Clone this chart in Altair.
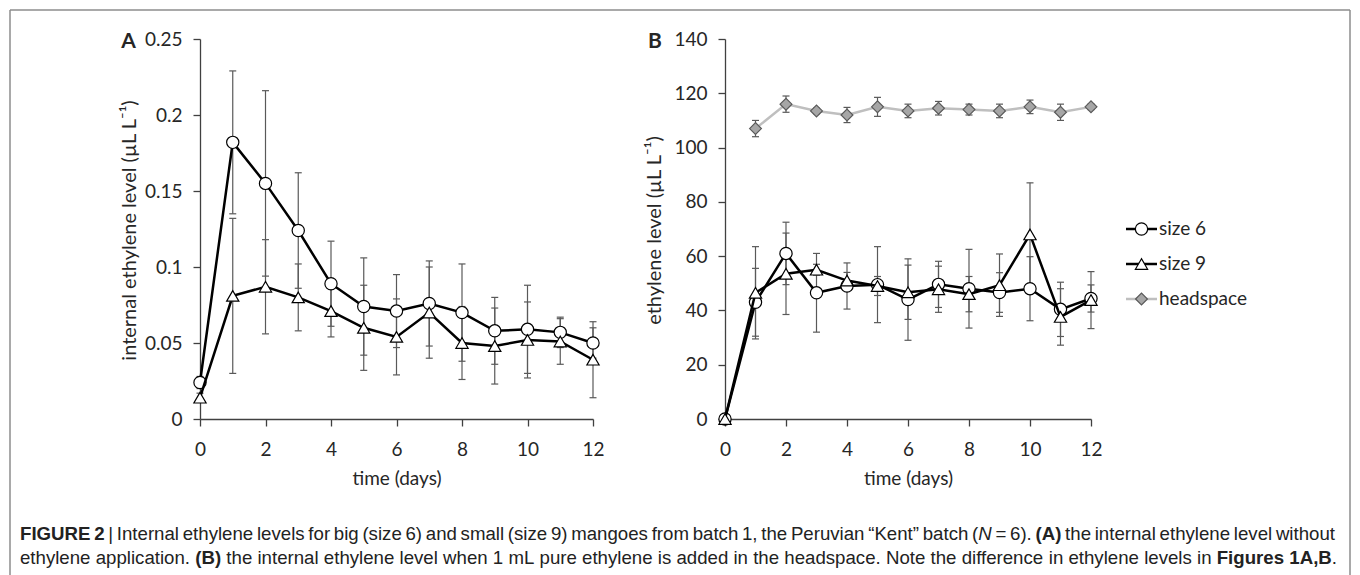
import altair as alt
import pandas as pd

# ---------------- data ----------------
days = list(range(13))
series_names = ["size 6", "size 9", "headspace"]

# Panel A: internal ethylene level (µL L-1)
a_size6 = [0.024, 0.182, 0.155, 0.124, 0.089, 0.074, 0.071, 0.076, 0.070, 0.058, 0.059, 0.057, 0.050]
a_size6_sd = [0.004, 0.047, 0.061, 0.038, 0.028, 0.032, 0.024, 0.028, 0.032, 0.022, 0.029, 0.010, 0.010]
a_size9 = [0.014, 0.081, 0.087, 0.080, 0.071, 0.060, 0.054, 0.070, 0.050, 0.048, 0.052, 0.051, 0.039]
a_size9_sd = [0.003, 0.051, 0.031, 0.022, 0.017, 0.028, 0.025, 0.030, 0.024, 0.025, 0.025, 0.015, 0.025]

# Panel B: ethylene level (µL L-1)
b_size6 = [0.0, 43.0, 61.0, 46.5, 49.0, 49.5, 44.0, 49.6, 48.0, 46.6, 48.0, 40.4, 44.4]
b_size6_sd = [0.0, 12.5, 11.5, 14.5, 8.5, 14.0, 15.0, 8.5, 14.5, 7.3, 11.8, 10.0, 5.0]
b_size9 = [0.0, 46.5, 53.5, 55.0, 51.0, 49.0, 46.7, 47.8, 46.0, 49.3, 68.0, 37.6, 43.8]
b_size9_sd = [0.0, 17.0, 15.0, 2.0, 3.0, 3.5, 10.0, 8.5, 6.5, 11.5, 19.0, 10.4, 10.5]
head_days = list(range(1, 13))
b_head = [107.0, 116.0, 113.5, 112.0, 115.0, 113.5, 114.5, 114.0, 113.5, 115.0, 113.0, 115.0]
b_head_sd = [3.0, 3.0, 1.0, 2.8, 3.5, 2.5, 2.5, 2.0, 2.5, 2.5, 3.0, 1.0]

x_ticks = [0, 2, 4, 6, 8, 10, 12]
a_ticks = [0, 0.05, 0.1, 0.15, 0.2, 0.25]
b_ticks = [0, 20, 40, 60, 80, 100, 120, 140]

caption_line1 = [
    ("FIGURE 2", "b"),
    (" | Internal ethylene levels for big (size 6) and small (size 9) mangoes from batch 1, the Peruvian \u201cKent\u201d batch (", "r"),
    ("N", "i"),
    (" = 6). ", "r"),
    ("(A)", "b"),
    (" the internal ethylene level without", "r"),
]
caption_line2 = [
    ("ethylene application. ", "r"),
    ("(B)", "b"),
    (" the internal ethylene level when 1 mL pure ethylene is added in the headspace. Note the difference in ethylene levels in ", "r"),
    ("Figures 1A,B", "b"),
    (".", "r"),
]

# ---------------- styling ----------------
FONT = "Lato"
CAP_FONT = "Liberation Sans"
AX = "#404040"
TXT = "#262626"
BAR = "#595959"
W_A, W_B, H = 393, 366, 380
SPACING = 132
one_row = pd.DataFrame({"k": [0]})


def series_df(xs, vals, sds):
    return pd.DataFrame({
        "day": xs,
        "val": vals,
        "lo": [v - s for v, s in zip(vals, sds)],
        "hi": [v + s for v, s in zip(vals, sds)],
    })


def make_axes(ydomain, yvals, yfmt, ytitle):
    common = dict(grid=False, domainColor=AX, domainWidth=1.3, tickColor=AX, tickWidth=1.3,
                  tickSize=7, labelFont=FONT, labelFontSize=19, labelColor=TXT,
                  titleFont=FONT, titleFontWeight="normal", titleColor=TXT,
                  labelFlush=False)
    xax = alt.Axis(values=x_ticks, title="time (days)", labelPadding=14, titleY=65,
                   titleFontSize=19, titleBaseline="alphabetic", **common)
    yax = alt.Axis(values=yvals, format=yfmt, title=ytitle, labelPadding=11, titleX=-65,
                   titleY=H / 2 + 1, titleAngle=270, titleFontSize=20, titleBaseline="alphabetic",
                   titleAlign="center", **common)
    xs = alt.Scale(domain=[0, 12], nice=False, zero=False)
    ys = alt.Scale(domain=ydomain, nice=False, zero=False)
    return xax, yax, xs, ys


def series_layers(df, axes, shape, fill, stroke, line_color, size):
    xax, yax, xs, ys = axes
    X = alt.X("day:Q", scale=xs, axis=xax)
    base = alt.Chart(df)
    rule = base.mark_rule(color=BAR, strokeWidth=1.2).encode(
        x=X, y=alt.Y("lo:Q", scale=ys, axis=yax), y2="hi:Q")
    tlo = base.mark_tick(orient="horizontal", size=7, thickness=1.2, color=BAR, opacity=1).encode(
        x=X, y=alt.Y("lo:Q", scale=ys, axis=yax))
    thi = base.mark_tick(orient="horizontal", size=7, thickness=1.2, color=BAR, opacity=1).encode(
        x=X, y=alt.Y("hi:Q", scale=ys, axis=yax))
    line = base.mark_line(color=line_color, strokeWidth=2.5).encode(
        x=X, y=alt.Y("val:Q", scale=ys, axis=yax))
    pts = base.mark_point(shape=shape, filled=True, fill=fill, stroke=stroke, strokeWidth=1.2,
                          size=size, opacity=1).encode(
        x=X, y=alt.Y("val:Q", scale=ys, axis=yax))
    return [rule, tlo, thi], [line, pts]


# ---------------- caption layout (Arial / Liberation Sans metrics) ----------------
REG = {" ": 278, "(": 333, ")": 333, ",": 278, ".": 278, "|": 260, "=": 584, "\u201c": 333, "\u201d": 333,
       "A": 667, "B": 667, "C": 722, "D": 722, "E": 667, "F": 611, "G": 778, "H": 722, "I": 278,
       "J": 500, "K": 667, "L": 556, "M": 833, "N": 722, "O": 778, "P": 667, "Q": 778, "R": 722,
       "S": 667, "T": 611, "U": 722, "V": 667, "W": 944, "X": 667, "Y": 667, "Z": 611,
       "a": 556, "b": 556, "c": 500, "d": 556, "e": 556, "f": 278, "g": 556, "h": 556, "i": 222,
       "j": 222, "k": 500, "l": 222, "m": 833, "n": 556, "o": 556, "p": 556, "q": 556, "r": 333,
       "s": 500, "t": 278, "u": 556, "v": 500, "w": 722, "x": 500, "y": 500, "z": 500}
BOLD = {" ": 278, "(": 333, ")": 333, ",": 278, ".": 278, "|": 280,
        "A": 722, "B": 722, "C": 722, "D": 722, "E": 667, "F": 611, "G": 778, "H": 722, "I": 278,
        "R": 722, "S": 667, "U": 722,
        "a": 556, "b": 611, "c": 556, "d": 611, "e": 556, "f": 333, "g": 611, "h": 611, "i": 278,
        "l": 278, "m": 889, "n": 611, "o": 611, "p": 611, "r": 389, "s": 556, "t": 333, "u": 611}


def tw(s, style):
    table = BOLD if style == "b" else REG
    return sum(table.get(c, 556) for c in s) / 1000.0


def split_words(runs):
    words = [[]]
    for text, style in runs:
        parts = text.split(" ")
        for k, p in enumerate(parts):
            if k > 0:
                words.append([])
            if p:
                words[-1].append((p, style))
    return [w for w in words if w]


def natural_em(runs):
    words = split_words(runs)
    return sum(tw(t, s) for w in words for t, s in w) + 0.278 * (len(words) - 1)


def layout_line(runs, x0, x1, size, justify):
    words = split_words(runs)
    widths = [sum(tw(t, s) for t, s in w) * size for w in words]
    space = 0.278 * size
    if justify and len(words) > 1:
        natural = sum(widths) + space * (len(words) - 1)
        space = max(space * 0.6, space + (x1 - x0 - natural) / (len(words) - 1))
    out, x = [], x0
    for w, wd in zip(words, widths):
        xx = x
        for t, s in w:
            out.append((t, s, xx))
            xx += tw(t, s) * size
        x += wd + space
    return out


OX_A, OY = 200, 39  # plot origin of panel A on the page
cap_size = (1337 - 20) / natural_em(caption_line2)
cap_runs = [(t, s, x, 540) for t, s, x in layout_line(caption_line1, 20, 1335, cap_size, True)] + \
           [(t, s, x, 564) for t, s, x in layout_line(caption_line2, 20, 1337, cap_size, False)]

caption_layers = []
for t, s, x, y in cap_runs:
    kw = dict(text=t, font=CAP_FONT, fontSize=cap_size, align="left", baseline="alphabetic", color="#222222")
    if s == "b":
        kw["fontWeight"] = "bold"
    if s == "i":
        kw["fontStyle"] = "italic"
    caption_layers.append(
        alt.Chart(one_row).mark_text(**kw).encode(x=alt.value(x - OX_A), y=alt.value(y - OY)))

# frame around the figure
frame = [
    alt.Chart(one_row).mark_rect(opacity=0).encode(
        x=alt.value(-OX_A), x2=alt.value(1360 - OX_A), y=alt.value(-OY), y2=alt.value(575 - OY)),
    alt.Chart(one_row).mark_rule(color="#8c8c8c", strokeWidth=1.5).encode(
        x=alt.value(10 - OX_A), x2=alt.value(1350 - OX_A), y=alt.value(10 - OY)),
    alt.Chart(one_row).mark_rule(color="#8c8c8c", strokeWidth=1.5).encode(
        x=alt.value(10 - OX_A), y=alt.value(10 - OY), y2=alt.value(575 - OY)),
    alt.Chart(one_row).mark_rule(color="#8c8c8c", strokeWidth=1.5).encode(
        x=alt.value(1350 - OX_A), y=alt.value(10 - OY), y2=alt.value(575 - OY)),
]

# ---------------- panel A ----------------
axes_a = make_axes([0, 0.25], a_ticks, ".2~f", "internal ethylene level (\u00b5L L\u207b\u00b9)")
bars6, fg6 = series_layers(series_df(days, a_size6, a_size6_sd), axes_a, "circle", "white", "black", "black", 150)
bars9, fg9 = series_layers(series_df(days, a_size9, a_size9_sd), axes_a, "triangle-up", "white", "black", "black", 150)
label_a = alt.Chart(one_row).mark_text(text="A", font=FONT, fontSize=21, fontWeight="bold",
                                       align="center", baseline="alphabetic", color=TXT).encode(
    x=alt.value(-71.5), y=alt.value(9))

panel_a = alt.layer(*frame, *bars6, *bars9, *fg6, *fg9, label_a, *caption_layers).properties(
    width=W_A, height=H)

# ---------------- panel B ----------------
axes_b = make_axes([0, 140], b_ticks, "d", "ethylene level (\u00b5L L\u207b\u00b9)")
hb, hf = series_layers(series_df(head_days, b_head, b_head_sd), axes_b, "diamond", "#a6a6a6", "#595959", "#bfbfbf", 140)
b6b, b6f = series_layers(series_df(days, b_size6, b_size6_sd), axes_b, "circle", "white", "black", "black", 150)
b9b, b9f = series_layers(series_df(days, b_size9, b_size9_sd), axes_b, "triangle-up", "white", "black", "black", 150)
label_b = alt.Chart(one_row).mark_text(text="B", font=FONT, fontSize=21, fontWeight="bold",
                                       align="center", baseline="alphabetic", color=TXT).encode(
    x=alt.value(-70), y=alt.value(9))

# legend (drawn by hand: line + marker + label)
leg_shapes = ["circle", "triangle-up", "diamond"]
leg_fill = ["white", "white", "#a6a6a6"]
leg_stroke = ["black", "black", "#595959"]
leg_line = ["black", "black", "#bfbfbf"]
legend_layers = []
for i, name in enumerate(series_names):
    ly = 190 + 35 * i
    legend_layers.append(alt.Chart(one_row).mark_rule(color=leg_line[i], strokeWidth=2.5).encode(
        x=alt.value(401), x2=alt.value(432), y=alt.value(ly)))
    legend_layers.append(alt.Chart(one_row).mark_point(
        shape=leg_shapes[i], filled=True, fill=leg_fill[i], stroke=leg_stroke[i], strokeWidth=1.2,
        size=150 if i < 2 else 140, opacity=1).encode(x=alt.value(416.5), y=alt.value(ly)))
    legend_layers.append(alt.Chart(one_row).mark_text(
        text=name, font=FONT, fontSize=19, align="left", baseline="middle", color=TXT).encode(
        x=alt.value(434), y=alt.value(ly)))

panel_b = alt.layer(*hb, *b6b, *b9b, *hf, *b6f, *b9f, label_b, *legend_layers).properties(
    width=W_B, height=H)

chart = alt.hconcat(panel_a, panel_b, spacing=SPACING, bounds="flush").properties(
    padding=0, background="white"
).configure_view(stroke=None)

chart.save("out.html", embed_options={"renderer": "svg", "actions": False})
